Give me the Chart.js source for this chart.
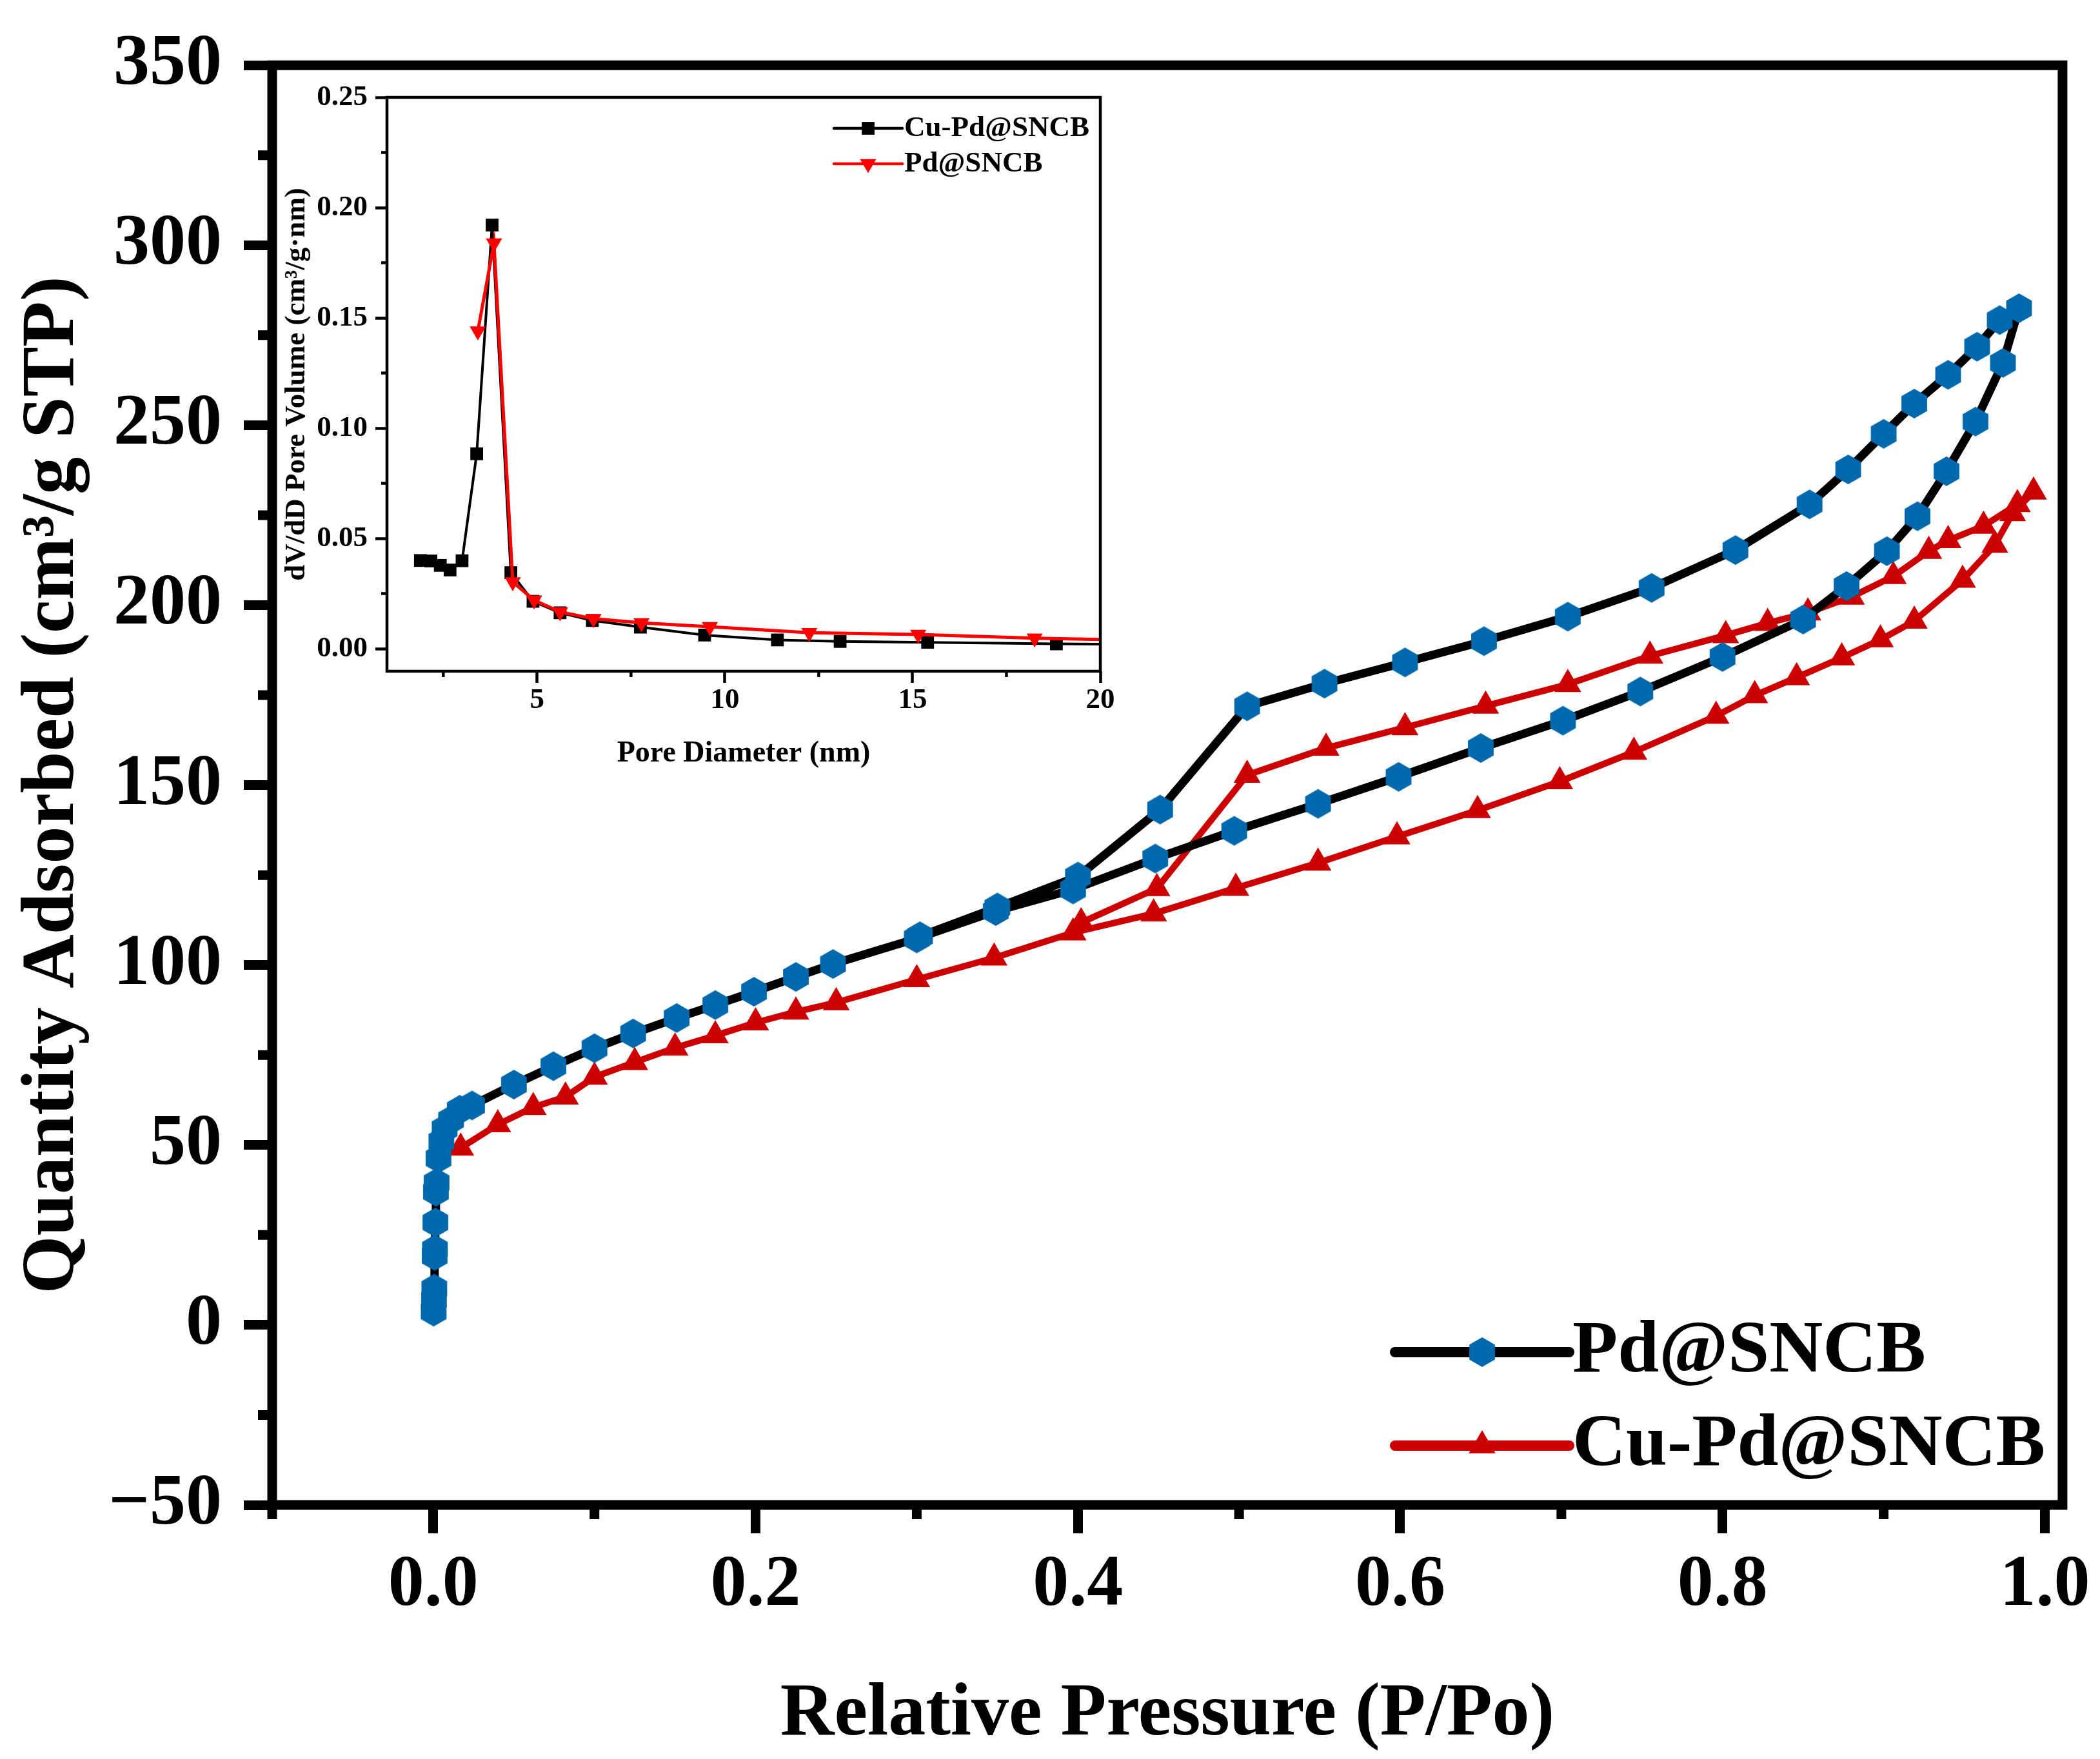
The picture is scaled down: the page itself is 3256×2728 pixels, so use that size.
<!DOCTYPE html>
<html lang="en">
<head>
  <meta charset="UTF-8" />
  <title>N2 Isotherms - Pd@SNCB / Cu-Pd@SNCB</title>
  <script src="https://cdn.jsdelivr.net/npm/chart.js@4"></script>
  <style>
    body {
      margin: 0;
      background: #fff;
    }

    #wrap {
      position: relative;
      width: 3256px;
      height: 2728px;
    }

    #main {
      position: absolute;
      left: 0;
      top: 0;
    }

    #inset {
      position: absolute;
      left: 430px;
      top: 100px;
    }
  </style>
</head>
<body>

<div id="wrap">
  <canvas id="main" width="3256" height="2728"></canvas>
  <canvas id="inset" width="1310" height="1130"></canvas>
</div>

<script>
  // ---- main plot: N2 adsorption / desorption isotherms ----
  const pdAdsP = [0.0002, 0.0004, 0.0006, 0.0008, 0.0010, 0.0013, 0.0016, 0.0020, 0.0032, 0.005, 0.007, 0.011, 0.0164, 0.024,
                  0.050, 0.0745, 0.100, 0.124, 0.151, 0.175, 0.199, 0.225, 0.248, 0.300, 0.349, 0.397, 0.448, 0.497,
                  0.549, 0.599, 0.650, 0.701, 0.749, 0.800, 0.850, 0.877, 0.902, 0.921, 0.939, 0.957, 0.974, 0.984];
  const pdAdsQ = [3.7, 7.0, 10.1, 19.2, 21.0, 28.5, 37.0, 39.5, 46.3, 51.0, 54.5, 57.0, 59.8, 61.0,
                  66.8, 71.9, 76.9, 81.0, 85.3, 88.9, 92.6, 96.7, 100.3, 107.4, 115.0, 121.0, 129.6, 137.3,
                  144.8, 152.3, 160.3, 167.9, 176.0, 185.6, 196.0, 205.3, 215.0, 224.7, 237.2, 251.0, 267.3, 282.5];
  const pdDesP = [0.972, 0.958, 0.940, 0.919, 0.900, 0.878, 0.854, 0.808, 0.756, 0.704, 0.652, 0.603, 0.553, 0.505,
                  0.451, 0.400, 0.350, 0.302];
  const pdDesQ = [279.2, 271.8, 264.0, 256.0, 247.6, 237.7, 228.0, 215.3, 204.8, 196.8, 190.0, 184.1, 178.2, 171.9,
                  143.2, 124.6, 116.0, 108.0];

  const cuAdsP = [0.017, 0.040, 0.062, 0.082, 0.100, 0.125, 0.150, 0.175, 0.200, 0.225, 0.250, 0.300, 0.348, 0.397,
                  0.447, 0.498, 0.549, 0.598, 0.648, 0.699, 0.745, 0.796, 0.820, 0.846, 0.874, 0.898, 0.919, 0.949,
                  0.969, 0.980, 0.993];
  const cuAdsQ = [49.2, 55.7, 60.5, 63.4, 68.9, 73.0, 77.0, 80.4, 84.0, 87.0, 89.6, 96.0, 102.0, 109.0,
                  114.3, 121.4, 128.4, 135.7, 143.0, 151.0, 159.2, 169.2, 174.9, 179.9, 185.4, 190.4, 195.6, 207.0,
                  216.7, 225.5, 231.5];
  const cuDesP = [0.983, 0.962, 0.940, 0.928, 0.906, 0.880, 0.853, 0.828, 0.802, 0.755, 0.704, 0.653, 0.603, 0.554,
                  0.505, 0.449, 0.402];
  const cuDesQ = [228.0, 222.0, 218.0, 215.0, 208.0, 202.3, 197.9, 195.0, 191.6, 185.9, 178.0, 172.0, 166.0, 160.3,
                  152.8, 121.3, 111.8];

  const mainXTicks = [0.0, 0.2, 0.4, 0.6, 0.8, 1.0];
  const mainXMinor = [-0.1, 0.1, 0.3, 0.5, 0.7, 0.9];
  const mainYTicks = [-50, 0, 50, 100, 150, 200, 250, 300, 350];
  const mainYMinor = [-25, 25, 75, 125, 175, 225, 275, 325];

  // ---- inset: BJH pore size distribution ----
  const cuPoreD = [1.89, 2.17, 2.42, 2.68, 3.0, 3.39, 3.80, 4.3, 4.89, 5.61, 6.47, 7.75, 9.46, 11.4, 13.07, 15.4, 18.83, 21.5];
  const cuPoreV = [0.0400, 0.0398, 0.0378, 0.0357, 0.0399, 0.0884, 0.1921, 0.0345, 0.0215, 0.0163, 0.0128, 0.0098,
                   0.0062, 0.0040, 0.0033, 0.0029, 0.0022, 0.0020];
  const pdPoreD = [3.42, 3.85, 4.35, 4.92, 5.61, 6.5, 7.78, 9.6, 12.25, 15.15, 18.25, 21.5];
  const pdPoreV = [0.1440, 0.1839, 0.0303, 0.0220, 0.0167, 0.0136, 0.0117, 0.0100, 0.0073, 0.0065, 0.0048, 0.0037];

  const insetXTicks = [5, 10, 15, 20];
  const insetXMinor = [2.5, 7.5, 12.5, 17.5];
  const insetYTicks = [0.00, 0.05, 0.10, 0.15, 0.20, 0.25];
  const insetYMinor = [0.025, 0.075, 0.125, 0.175, 0.225];

  const serif = "'Liberation Serif', 'Times New Roman', serif";

  function pairs(xs, ys) {
    return xs.map((x, i) => ({ x: x, y: ys[i] }));
  }

  // pointy-top hexagon used as the Pd@SNCB symbol
  function hexagon(r, color) {
    const c = document.createElement("canvas");
    c.width = Math.ceil(r * Math.sqrt(3)) + 2;
    c.height = 2 * r + 2;
    const g = c.getContext("2d");
    g.fillStyle = color;
    g.beginPath();
    for (let k = 0; k < 6; k++) {
      const a = Math.PI / 3 * k - Math.PI / 2;
      const px = c.width / 2 + r * Math.cos(a);
      const py = c.height / 2 + r * Math.sin(a);
      if (k === 0) g.moveTo(px, py); else g.lineTo(px, py);
    }
    g.closePath();
    g.fill();
    return c;
  }

  // box frame + minor ticks (Origin style)
  function framePlugin(cfg) {
    return {
      id: "frame",
      afterDraw(chart) {
        const { ctx, chartArea: a, scales } = chart;
        ctx.save();
        ctx.strokeStyle = "#000";
        ctx.lineWidth = cfg.width;
        ctx.beginPath();
        cfg.xMinor.forEach(v => {
          const px = scales.x.getPixelForValue(v);
          ctx.moveTo(px, a.bottom);
          ctx.lineTo(px, a.bottom + cfg.minorLen);
        });
        cfg.yMinor.forEach(v => {
          const py = scales.y.getPixelForValue(v);
          ctx.moveTo(a.left, py);
          ctx.lineTo(a.left - cfg.minorLen, py);
        });
        ctx.stroke();
        ctx.lineJoin = "miter";
        ctx.strokeRect(a.left, a.top, a.right - a.left, a.bottom - a.top);
        ctx.restore();
      }
    };
  }

  // legend drawn as line + symbol + label
  function legendPlugin(cfg) {
    return {
      id: "lineLegend",
      afterDraw(chart) {
        const ctx = chart.ctx;
        ctx.save();
        chart.data.datasets.forEach((ds, i) => {
          const y = cfg.y + i * cfg.rowGap;
          ctx.strokeStyle = ds.borderColor;
          ctx.lineWidth = cfg.lineWidth;
          ctx.lineCap = "round";
          ctx.beginPath();
          ctx.moveTo(cfg.x, y);
          ctx.lineTo(cfg.x + cfg.lineLen, y);
          ctx.stroke();
          ctx.fillStyle = ds.pointBackgroundColor;
          Chart.helpers.drawPoint(ctx, {
            pointStyle: ds.pointStyle,
            radius: ds.pointRadius,
            rotation: ds.pointRotation || 0,
            borderWidth: 0
          }, cfg.x + cfg.lineLen / 2, y);
          ctx.fillStyle = "#000";
          ctx.font = "bold " + cfg.fontSize + "px " + serif;
          ctx.textBaseline = "middle";
          ctx.textAlign = "left";
          ctx.fillText(ds.label, cfg.x + cfg.lineLen + cfg.gap, y);
        });
        ctx.restore();
      }
    };
  }

  function axisFont(size, lh) {
    return { family: serif, size: size, weight: "bold", lineHeight: lh };
  }

  const blue = "#0068ac";
  const red = "#cc0000";

  new Chart(document.getElementById("main"), {
    type: "scatter",
    data: {
      datasets: [
        {
          label: "Pd@SNCB",
          data: pairs(pdAdsP.concat(pdDesP), pdAdsQ.concat(pdDesQ)),
          showLine: true,
          borderColor: "#000",
          borderWidth: 13,
          borderJoinStyle: "round",
          pointStyle: hexagon(23, blue),
          pointRadius: 23,
          pointBackgroundColor: blue
        },
        {
          label: "Cu-Pd@SNCB",
          data: pairs(cuAdsP.concat(cuDesP), cuAdsQ.concat(cuDesQ)),
          showLine: true,
          borderColor: red,
          borderWidth: 10,
          borderJoinStyle: "round",
          pointStyle: "triangle",
          pointRadius: 24,
          pointBackgroundColor: red,
          pointBorderColor: red,
          pointBorderWidth: 0
        }
      ]
    },
    options: {
      responsive: false,
      animation: false,
      devicePixelRatio: 1,
      layout: { padding: { left: 0, right: 58, top: 88, bottom: 0 } },
      plugins: {
        legend: { display: false },
        tooltip: { enabled: false }
      },
      scales: {
        x: {
          type: "linear",
          min: -0.1,
          max: 1.011,
          afterBuildTicks: s => { s.ticks = mainXTicks.map(v => ({ value: v })); },
          afterFit: s => { s.height = 394; },
          border: { display: false },
          grid: { drawOnChartArea: false, tickLength: 44, tickWidth: 15, tickColor: "#000" },
          ticks: {
            padding: 15,
            color: "#000",
            maxRotation: 0,
            autoSkip: false,
            font: axisFont(112, 1.2),
            callback: v => v.toFixed(1)
          },
          title: {
            display: true,
            text: "Relative Pressure (P/Po)",
            color: "#000",
            font: axisFont(116, 1),
            padding: { top: 0, bottom: 10 }
          }
        },
        y: {
          type: "linear",
          min: -50,
          max: 350,
          afterBuildTicks: s => { s.ticks = mainYTicks.map(v => ({ value: v })); },
          afterFit: s => { s.width = 422; },
          border: { display: false },
          grid: { drawOnChartArea: false, tickLength: 44, tickWidth: 15, tickColor: "#000" },
          ticks: {
            padding: 34,
            color: "#000",
            autoSkip: false,
            font: axisFont(112, 1.2),
            callback: v => (v < 0 ? "\u2212" + Math.abs(v) : String(v))
          },
          title: {
            display: true,
            text: "Quantity Adsorbed (cm\u00b3/g STP)",
            color: "#000",
            font: axisFont(116, 1),
            padding: { top: 25, bottom: 0 }
          }
        }
      }
    },
    plugins: [
      framePlugin({ width: 15, minorLen: 22, xMinor: mainXMinor, yMinor: mainYMinor }),
      legendPlugin({ x: 2163, y: 2097, rowGap: 145, lineLen: 270, lineWidth: 16, fontSize: 115, gap: 5 })
    ]
  });

  new Chart(document.getElementById("inset"), {
    type: "scatter",
    data: {
      datasets: [
        {
          label: "Cu-Pd@SNCB",
          data: pairs(cuPoreD, cuPoreV),
          order: 2,
          showLine: true,
          borderColor: "#000",
          borderWidth: 4,
          pointStyle: "rect",
          pointRadius: 14,
          pointBackgroundColor: "#000",
          pointBorderColor: "#000",
          pointBorderWidth: 0
        },
        {
          label: "Pd@SNCB",
          data: pairs(pdPoreD, pdPoreV),
          order: 1,
          showLine: true,
          borderColor: "#ff0000",
          borderWidth: 5,
          pointStyle: "triangle",
          pointRotation: 180,
          pointRadius: 14.5,
          pointBackgroundColor: "#ff0000",
          pointBorderColor: "#ff0000",
          pointBorderWidth: 0
        }
      ]
    },
    options: {
      responsive: false,
      animation: false,
      devicePixelRatio: 1,
      layout: { padding: { left: 0, right: 34, top: 51, bottom: 0 } },
      plugins: {
        legend: { display: false },
        tooltip: { enabled: false }
      },
      scales: {
        x: {
          type: "linear",
          min: 1,
          max: 20,
          afterBuildTicks: s => { s.ticks = insetXTicks.map(v => ({ value: v })); },
          afterFit: s => { s.height = 189; },
          border: { display: false },
          grid: { drawOnChartArea: false, tickLength: 18, tickWidth: 4.5, tickColor: "#000" },
          ticks: {
            padding: 0,
            color: "#000",
            maxRotation: 0,
            autoSkip: false,
            font: axisFont(45, 1.2),
            callback: v => String(v)
          },
          title: {
            display: true,
            text: "Pore Diameter (nm)",
            color: "#000",
            font: axisFont(46, 1),
            padding: { top: 0, bottom: 38 }
          }
        },
        y: {
          type: "linear",
          min: -0.0102,
          max: 0.25,
          afterBuildTicks: s => { s.ticks = insetYTicks.map(v => ({ value: v })); },
          afterFit: s => { s.width = 170; },
          border: { display: false },
          grid: { drawOnChartArea: false, tickLength: 18, tickWidth: 4.5, tickColor: "#000" },
          ticks: {
            padding: 12,
            color: "#000",
            autoSkip: false,
            font: axisFont(45, 1.2),
            callback: v => v.toFixed(2)
          },
          title: {
            display: true,
            text: "dV/dD Pore Volume (cm\u00b3/g\u00b7nm)",
            color: "#000",
            font: axisFont(45, 1),
            padding: { top: 8, bottom: 0 }
          }
        }
      }
    },
    plugins: [
      framePlugin({ width: 4.5, minorLen: 9, xMinor: insetXMinor, yMinor: insetYMinor }),
      legendPlugin({ x: 863, y: 99, rowGap: 55, lineLen: 106, lineWidth: 4.5, fontSize: 45, gap: 3 })
    ]
  });
</script>

</body>
</html>
